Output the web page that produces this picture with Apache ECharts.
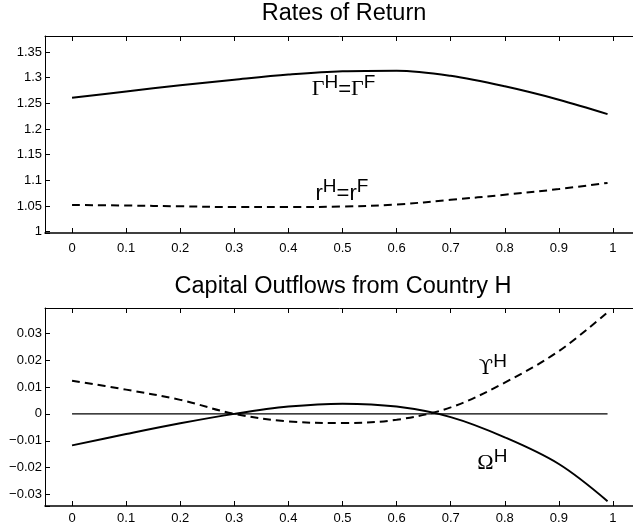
<!DOCTYPE html>
<html>
<head>
<meta charset="utf-8">
<script src="https://cdn.jsdelivr.net/npm/echarts@6/dist/echarts.min.js"></script>
<style>html,body{margin:0;padding:0;background:#fff;}#c{width:633px;height:526px;}</style>
</head>
<body>
<div id="c"></div>
<script>
// ---- data ----
const xValues = [0, 0.1, 0.2, 0.3, 0.4, 0.5, 0.6, 0.7, 0.8, 0.9, 0.99];
const gammaReturn = [1.261, 1.273, 1.285, 1.296, 1.306, 1.3125, 1.3135, 1.3035, 1.283, 1.257, 1.229];
const rReturn = [1.052, 1.051, 1.0495, 1.048, 1.048, 1.049, 1.053, 1.062, 1.072, 1.083, 1.095];
const upsilonFlow = [0.0123, 0.0090, 0.0052, 0.0000, -0.0028, -0.0034, -0.0022, 0.0024, 0.0116, 0.0233, 0.0377];
const omegaFlow = [-0.0117, -0.0075, -0.0035, 0.0000, 0.0027, 0.0038, 0.0027, -0.0012, -0.0087, -0.0186, -0.0324];
const zeroLine = [0, 0];
const zeroLineX = [0, 0.99];
const xTickLabels = ['0', '0.1', '0.2', '0.3', '0.4', '0.5', '0.6', '0.7', '0.8', '0.9', '1'];
const topTitle = 'Rates of Return';
const bottomTitle = 'Capital Outflows from Country H';

const pair = (xs, ys) => xs.map((x, i) => [x, ys[i]]);
const FONT = 'Liberation Sans';

function xLabel(v) {
  const t = Math.round(v * 10);
  if (Math.abs(v * 10 - t) > 1e-6 || t < 0 || t > 10) return '';
  return xTickLabels[t];
}
function yTopLabel(v) {
  const k = Math.round(v / 0.05);
  if (Math.abs(v / 0.05 - k) > 1e-4) return '';
  return String(Math.round(k * 5) / 100);
}
function yBotLabel(v) {
  const k = Math.round(v / 0.01);
  if (Math.abs(v / 0.01 - k) > 1e-4) return '';
  return String(k / 100).replace('-', '\u2212');
}

function xAxisCfg(gridIndex, pos, lineWidth) {
  return {
    type: 'value', gridIndex, position: pos, min: -0.05, max: 1.05,
    minInterval: 0.1, maxInterval: 0.1,
    splitLine: { show: false },
    axisLine: { show: true, onZero: false, lineStyle: { color: '#000', width: lineWidth } },
    axisTick: { show: true, inside: true, length: 5, lineStyle: { color: '#000', width: 1 } },
    axisLabel: { show: pos === 'bottom', formatter: xLabel, color: '#000', fontFamily: FONT, fontSize: 13, margin: gridIndex === 0 ? 9 : 6 }
  };
}
function yAxisCfg(gridIndex, min, max, step, fmt) {
  return {
    type: 'value', gridIndex, min, max, minInterval: step, maxInterval: step,
    splitLine: { show: false },
    axisLine: { show: true, onZero: false, lineStyle: { color: '#000', width: 1 } },
    axisTick: { show: true, inside: true, length: 5, lineStyle: { color: '#000', width: 1 } },
    axisLabel: { formatter: fmt, color: '#000', fontFamily: FONT, fontSize: 13, margin: 3 }
  };
}

const richBase = {
  g: { fontFamily: 'Liberation Serif', fontSize: 22, lineHeight: 24, verticalAlign: 'bottom', color: '#000' },
  u: { fontFamily: 'DejaVu Serif', fontSize: 21, lineHeight: 24, verticalAlign: 'bottom', color: '#000' },
  n: { fontFamily: FONT, fontSize: 22, lineHeight: 24, verticalAlign: 'bottom', color: '#000' },
  s: { fontFamily: FONT, fontSize: 19, lineHeight: 20, verticalAlign: 'bottom', padding: [0, 0, 8, 0], color: '#000' }
};
function annot(coord, text) {
  return {
    silent: true, symbol: 'circle', symbolSize: 1, itemStyle: { color: 'rgba(0,0,0,0)' },
    label: { show: true, position: 'inside', color: '#000', formatter: text, rich: richBase },
    data: [{ coord }]
  };
}

const chart = echarts.init(document.getElementById('c'), null, { renderer: 'canvas' });
chart.setOption({
  animation: false,
  backgroundColor: '#fff',
  graphic: [
    { type: 'text', x: 344, y: 14, style: { text: topTitle, textAlign: 'center', textVerticalAlign: 'middle', fontFamily: FONT, fontSize: 23.5, fill: '#000' } },
    { type: 'text', x: 343, y: 287, style: { text: bottomTitle, textAlign: 'center', textVerticalAlign: 'middle', fontFamily: FONT, fontSize: 23.5, fill: '#000' } }
  ],
  grid: [
    { left: 45, top: 36, width: 595, height: 197, outerBoundsMode: 'none', containLabel: false },
    { left: 45, top: 308, width: 595, height: 198, outerBoundsMode: 'none', containLabel: false }
  ],
  xAxis: [
    xAxisCfg(0, 'bottom', 1.5), xAxisCfg(0, 'top', 1),
    xAxisCfg(1, 'bottom', 1.5), xAxisCfg(1, 'top', 1)
  ],
  yAxis: [
    yAxisCfg(0, 0.9975, 1.381, 0.05, yTopLabel),
    yAxisCfg(1, -0.0342, 0.0393, 0.01, yBotLabel)
  ],
  series: [
    { type: 'line', xAxisIndex: 0, yAxisIndex: 0, data: pair(xValues, gammaReturn), smooth: 0.35, showSymbol: false,
      lineStyle: { color: '#000', width: 2 }, markPoint: annot([0.502, 1.2788], '{g|Γ}{s|H}{n|=}{g|Γ}{s|F}') },
    { type: 'line', xAxisIndex: 0, yAxisIndex: 0, data: pair(xValues, rReturn), smooth: 0.35, showSymbol: false,
      lineStyle: { color: '#000', width: 2, type: [8, 5] }, markPoint: annot([0.499, 1.0762], '{n|r}{s|H}{n|=r}{s|F}') },
    { type: 'line', xAxisIndex: 2, yAxisIndex: 1, data: pair(zeroLineX, zeroLine), showSymbol: false,
      lineStyle: { color: '#000', width: 1.4 } },
    { type: 'line', xAxisIndex: 2, yAxisIndex: 1, data: pair(xValues, upsilonFlow), smooth: 0.35, showSymbol: false,
      lineStyle: { color: '#000', width: 2, type: [8, 5] }, markPoint: annot([0.778, 0.0173], '{u|ϒ}{s|H}') },
    { type: 'line', xAxisIndex: 2, yAxisIndex: 1, data: pair(xValues, omegaFlow), smooth: 0.35, showSymbol: false,
      lineStyle: { color: '#000', width: 2 }, markPoint: annot([0.777, -0.0179], '{g|Ω}{s|H}') }
  ]
});
</script>
</body>
</html>
